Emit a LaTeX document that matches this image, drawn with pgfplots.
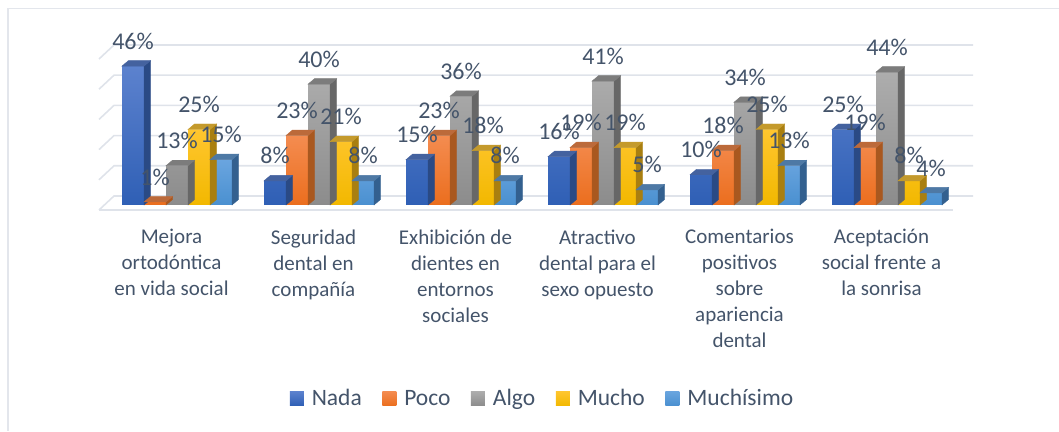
\documentclass[border=0pt]{standalone}
\usepackage{fontspec}
\setmainfont{Carlito}
\usepackage{pgfplots}
\usepackage{pgfplotstable}
\pgfplotsset{compat=1.18}
\definecolor{txt}{HTML}{44546A}
\definecolor{gridc}{HTML}{DFE3EA}
\definecolor{framec}{HTML}{E3E6EC}
\definecolor{nadaT}{HTML}{5C82CE}
\definecolor{nadaB}{HTML}{2F5FB5}
\definecolor{nadaS}{HTML}{2A4A85}
\definecolor{nadaL}{HTML}{44629F}
\definecolor{pocoT}{HTML}{F48C50}
\definecolor{pocoB}{HTML}{EB6E1E}
\definecolor{pocoS}{HTML}{A9581F}
\definecolor{pocoL}{HTML}{BC6A3A}
\definecolor{algoT}{HTML}{ADADAD}
\definecolor{algoB}{HTML}{8C8C8C}
\definecolor{algoS}{HTML}{676767}
\definecolor{algoL}{HTML}{7C7C7C}
\definecolor{muchoT}{HTML}{FFC62F}
\definecolor{muchoB}{HTML}{F2B800}
\definecolor{muchoS}{HTML}{A97F10}
\definecolor{muchoL}{HTML}{C49A2C}
\definecolor{muchisT}{HTML}{6AA5DF}
\definecolor{muchisB}{HTML}{4A90D0}
\definecolor{muchisS}{HTML}{33608F}
\definecolor{muchisL}{HTML}{4E79A5}

% columns are the answer levels, one row per question
\pgfplotstableread{
pos Nada Poco Algo Mucho Muchisimo
0 46 1 13 25 15
1 8 23 40 21 8
2 15 23 36 18 8
3 16 19 41 19 5
4 10 18 34 25 13
5 25 19 44 8 4
}\data

% side and top faces of a bar, drawn from the bar's top centre
\newcommand\declaredepth[4]{%
  \pgfdeclareplotmark{depth#1}{%
    \pgfmathsetmacro\hpt{\hval*3.02}%
    \fill[#3] (#2pt+11pt,0pt) -- ++(6.5pt,5.5pt) -- ++(0pt,-\hpt pt) -- ++(-6.5pt,-5.5pt) -- cycle;
    \fill[#4] (#2pt-11pt,0pt) -- ++(6.5pt,5.5pt) -- ++(22pt,0pt) -- ++(-6.5pt,-5.5pt) -- cycle;
  }%
}
\declaredepth{Nada}{-44}{nadaS}{nadaL}
\declaredepth{Poco}{-22}{pocoS}{pocoL}
\declaredepth{Algo}{0}{algoS}{algoL}
\declaredepth{Mucho}{22}{muchoS}{muchoL}
\declaredepth{Muchisimo}{44}{muchisS}{muchisL}

\newcommand\barseries[5]{%
  \addplot[scatter,only marks,mark=depth#1,visualization depends on=rawy\as\hval,forget plot]
    table[x=pos,y=#1]{\data};
  \addplot[ybar,bar width=22pt,bar shift=#2pt,draw=none,top color=#3,bottom color=#4,
    legend image code/.code={\shade[top color=#3,bottom color=#4] (0pt,-7.2pt) rectangle (14pt,7.2pt);\path (20pt,0pt);}]
    table[x=pos,y=#1]{\data};
  \addlegendentry{#5}
}
\newcommand\labelseries[2]{%
  \addplot[draw=none,mark=none,forget plot,point meta=y,nodes near coords={\pgfmathprintnumber[assume math mode=true]\pgfplotspointmeta\%},
    nodes near coords style={anchor=center,xshift=#2pt,yshift=25pt,text=txt,font=\fontsize{24}{24}\selectfont}]
    table[x=pos,y=#1]{\data};
}

\begin{document}
\begin{tikzpicture}
\path[use as bounding box] (0pt,0pt) rectangle (1059pt,431pt);
\draw[framec,line width=1.4pt] (8pt,0pt) -- (8pt,422.5pt) -- (1059pt,422.5pt);
% walls and floor
\foreach \v in {0,10,...,50}{
  \pgfmathsetmacro\yb{431-196+3.02*\v}
  \draw[gridc,line width=1.6pt] (99pt,\yb pt-14pt) -- (114pt,\yb pt) -- (973pt,\yb pt);
}
\draw[gridc,line width=1.6pt] (99pt,221pt) -- (953pt,221pt);
\begin{axis}[
    at={(0pt,0pt)},anchor=south west,
    scale only axis,width=1059pt,height=431pt,
    xmin=-1.2465,xmax=6.2113,
    ymin=-74.83,ymax=67.88,
    clip=false,
    axis line style={draw=none},
    tick style={draw=none},
    ytick=\empty,
    xtick={0,...,5},
    xticklabels={{Mejora\\ortodóntica\\en vida social},{Seguridad\\dental en\\compañía},{Exhibición de\\dientes en\\entornos\\sociales},{Atractivo\\dental para el\\sexo opuesto},{Comentarios\\positivos\\sobre\\apariencia\\dental},{Aceptación\\social frente a\\la sonrisa}},
    xticklabel style={align=center,anchor=north,xshift=-5.5pt,yshift=205pt,text=txt,font=\fontsize{21}{26}\selectfont},
    legend columns=5,
    legend cell align=left,
    legend style={at={(542.5pt,32.5pt)},anchor=center,draw=none,fill=none,text=txt,
      font=\fontsize{23.5}{23.5}\selectfont,
      /tikz/every even column/.append style={column sep=18.5pt}},
]
\barseries{Nada}{-44}{nadaT}{nadaB}{Nada}
\barseries{Poco}{-22}{pocoT}{pocoB}{Poco}
\barseries{Algo}{0}{algoT}{algoB}{Algo}
\barseries{Mucho}{22}{muchoT}{muchoB}{Mucho}
\barseries{Muchisimo}{44}{muchisT}{muchisB}{Muchísimo}
\labelseries{Nada}{-44}
\labelseries{Poco}{-22}
\labelseries{Algo}{0}
\labelseries{Mucho}{22}
\labelseries{Muchisimo}{44}
\end{axis}
\end{tikzpicture}
\end{document}
